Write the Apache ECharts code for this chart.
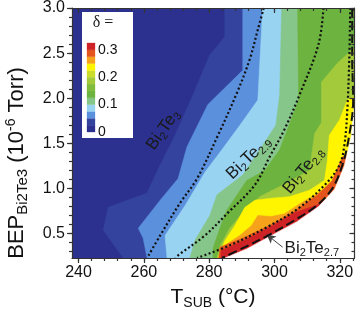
<!DOCTYPE html>
<html><head><meta charset="utf-8">
<script src="https://cdn.jsdelivr.net/npm/echarts@6/dist/echarts.min.js"></script>
<style>html,body{margin:0;padding:0;background:#fff}#c{width:357px;height:317px}</style>
</head><body><div id="c"></div>
<script>
// ---------------- data (T in °C, BEP in 1e-6 Torr) ----------------
const xMajorTicks = [240, 260, 280, 300, 320];
const xMinorTicks = [240,244,248,252,256,260,264,268,272,276,280,284,288,292,296,300,304,308,312,316,320,324];
const yMajorTicks = [0.5, 1.0, 1.5, 2.0, 2.5, 3.0];
const yMinorTicks = [0.3,0.4,0.5,0.6,0.7,0.8,0.9,1.0,1.1,1.2,1.3,1.4,1.5,1.6,1.7,1.8,1.9,2.0,2.1,2.2,2.3,2.4,2.5,2.6,2.7,2.8,2.9,3.0];
const deltaLevels = [0, 0.025, 0.05, 0.075, 0.1, 0.125, 0.15, 0.175, 0.2, 0.225, 0.25, 0.275, 0.3, 0.325];
const colorbarTicks = [0, 0.1, 0.2, 0.3];
const bandColors = ['#2c3190','#34449e','#5b90dd','#98d4f2','#86c68b','#6db33f','#80bb3b','#a2ca3a','#cadd2b','#fff500','#f6a31b','#e4551e','#cf2227'];

// contour edges: left edge of the region where delta >= level
const edgeBase = [[230,3.0],[230,0.23]];
const edge025 = [[284.8,3.0],[284.8,2.68],[280.2,2.48],[275.1,2.04],[269.6,1.59],[265.0,1.26],[261.0,0.95],[249.1,0.79],[247.6,0.54],[253.7,0.23]];
const edge050 = [[290.3,3.0],[290.3,2.31],[279.6,1.93],[273.2,1.46],[270.5,1.11],[265.0,0.87],[258.3,0.56],[259.8,0.45],[261.0,0.23]];
const edge075 = [[296.4,3.0],[294.9,1.98],[289.4,1.70],[283.9,1.43],[278.7,1.18],[272.6,0.81],[266.5,0.48],[267.1,0.23]];
const edge100 = [[302.2,3.0],[301.6,2.04],[300.4,1.70],[294.9,1.40],[290.3,1.15],[282.4,0.93],[280.2,0.70],[275.7,0.43],[274.1,0.23]];
const edge125 = [[307.1,3.0],[307.4,1.98],[301.6,1.43],[297.0,1.20],[291.5,1.09],[285.4,0.76],[283.3,0.56],[281.2,0.34],[281.2,0.23]];
const edge175 = [[326,2.59],[324.5,2.56],[319.3,2.39],[314.4,2.18],[314.4,1.98],[314.4,1.73],[312.3,1.61],[311.3,1.35],[310.7,1.20],[303.7,1.06],[295.5,0.91],[291.5,0.78],[286.3,0.56],[283.3,0.36],[282.4,0.23]];
const edge225 = [[326,2.04],[322.3,1.98],[319.9,1.76],[316.8,1.59],[316.2,1.31],[315.3,1.09],[310.7,0.98],[304.6,0.91],[298.5,0.89],[294.0,0.87],[290.9,0.79],[287.9,0.59],[284.8,0.42],[282.7,0.23]];
const edge250 = [[326,1.15],[319.9,1.11],[316.8,1.03],[312.9,0.94],[307.7,0.83],[303.1,0.72],[299.1,0.69],[294.9,0.70],[293.0,0.59],[289.4,0.48],[284.8,0.37],[282.7,0.23]];
const edge275 = [[326,1.43],[320.8,1.35],[317.7,1.09],[312.9,0.92],[306.2,0.75],[298.5,0.59],[290.9,0.46],[283.3,0.35],[283.0,0.23]];
const edge300 = [[326,0.87],[316.8,0.87],[311.6,0.80],[306.2,0.73],[298.5,0.57],[290.9,0.43],[283.6,0.31],[283.6,0.23]];
const dataEdge = [[326,3.0],[326,1.98],[324.6,1.98],[323.5,1.58],[321.4,1.25],[318.4,0.99],[313.5,0.80],[306.8,0.63],[299.1,0.48],[291.5,0.33],[284.8,0.23]];

// composition curves
const curveTe30 = [[296.7,3.0],[294.9,2.76],[292.4,2.43],[288.5,2.06],[282.7,1.59],[276.3,1.11],[271.1,0.84],[265.0,0.48],[261.0,0.23]];
const curveTe29 = [[315.0,3.0],[313.5,2.6],[307.7,2.04],[303.0,1.65],[298.5,1.35],[294.0,1.04],[285.7,0.73],[278.7,0.48],[270.5,0.26],[269.6,0.23]];
const curveTe28 = [[323.2,3.0],[322.9,2.43],[322.3,1.87],[321.4,1.48],[319.9,1.26],[315.9,1.06],[307.7,0.79],[297.6,0.57],[286.3,0.37],[276.3,0.23]];
const curveTe27 = [[323.8,3.0],[323.8,2.87],[323.8,2.43],[324.1,1.98],[322.9,1.59],[320.8,1.26],[317.7,1.0],[312.9,0.81],[306.2,0.65],[298.5,0.49],[290.9,0.35],[283.9,0.23]];
const arrowTail = [302.5, 0.35];
const arrowHead = [297.6, 0.49];

// ---------------- chart ----------------
const FONT = '"Liberation Sans", Arial, sans-serif';
const AX = '#333';
const regions = [
  {band:0, edge:edgeBase},{band:1, edge:edge025},{band:2, edge:edge050},{band:3, edge:edge075},
  {band:4, edge:edge100},{band:5, edge:edge125},{band:7, edge:edge175},{band:9, edge:edge225},
  {band:10, edge:edge250},{band:11, edge:edge275},{band:12, edge:edge300},{band:-1, edge:dataEdge}
];
function closeRight(edge){
  const t = edge[0], b = edge[edge.length-1];
  return [[t[0],3.5]].concat(edge, [[b[0],0.0],[340,0.0],[340,3.5]]);
}
const polys = regions.map(r => ({poly: closeRight(r.edge), color: r.band < 0 ? '#ffffff' : bandColors[r.band]}));

const chart = echarts.init(document.getElementById('c'));
const lineS = (data, dash, w) => ({
  type:'line', xAxisIndex:0, yAxisIndex:0, data, symbol:'none', smooth:0.35, silent:true, z:6,
  lineStyle:{color:'#111', width:w, type:dash, cap:'butt'}
});
const xBase = {type:'value', gridIndex:0, min:238, max:324.5, splitLine:{show:false}, z:10};
const yBase = {type:'value', gridIndex:0, min:0.23, max:3.0, splitLine:{show:false}, z:10};
const tickLine = {color:AX, width:1.2};

chart.setOption({
  animation:false,
  grid:[{left:72, right:2.5, top:8, bottom:59},{left:87, top:43, width:8, height:89}],
  xAxis:[
    Object.assign({}, xBase, {position:'bottom', axisLine:{show:true, lineStyle:tickLine},
      axisTick:{show:true, customValues:xMajorTicks, length:5, lineStyle:tickLine},
      axisLabel:{customValues:xMajorTicks, fontSize:16, color:'#111', fontFamily:FONT, margin:7}}),
    Object.assign({}, xBase, {position:'bottom', axisLine:{show:false},
      axisTick:{show:true, customValues:xMinorTicks, length:3, lineStyle:tickLine}, axisLabel:{show:false}}),
    Object.assign({}, xBase, {position:'top', axisLine:{show:true, lineStyle:tickLine},
      axisTick:{show:true, inside:true, customValues:xMajorTicks, length:5, lineStyle:tickLine}, axisLabel:{show:false}}),
    Object.assign({}, xBase, {position:'top', axisLine:{show:false},
      axisTick:{show:true, inside:true, customValues:xMinorTicks, length:3, lineStyle:tickLine}, axisLabel:{show:false}}),
    {type:'value', gridIndex:1, min:0, max:1, show:false}
  ],
  yAxis:[
    Object.assign({}, yBase, {position:'left', axisLine:{show:true, lineStyle:tickLine},
      axisTick:{show:true, customValues:yMajorTicks, length:5, lineStyle:tickLine},
      axisLabel:{customValues:yMajorTicks, fontSize:16, color:'#111', fontFamily:FONT, margin:7,
        formatter:v=>v.toFixed(1)}}),
    Object.assign({}, yBase, {position:'left', axisLine:{show:false},
      axisTick:{show:true, customValues:yMinorTicks, length:3, lineStyle:tickLine}, axisLabel:{show:false}}),
    Object.assign({}, yBase, {position:'right', axisLine:{show:true, lineStyle:tickLine},
      axisTick:{show:true, inside:true, customValues:yMajorTicks, length:5, lineStyle:tickLine}, axisLabel:{show:false}}),
    Object.assign({}, yBase, {position:'right', axisLine:{show:false},
      axisTick:{show:true, inside:true, customValues:yMinorTicks, length:3, lineStyle:tickLine}, axisLabel:{show:false}}),
    {type:'value', gridIndex:1, min:0, max:0.325, position:'right', z:12,
      axisLine:{show:false}, axisTick:{show:false}, splitLine:{show:false},
      axisLabel:{customValues:colorbarTicks, fontSize:14, color:'#111', fontFamily:FONT, margin:3,
        formatter:v=> v===0 ? '0' : v.toFixed(1)}}
  ],
  series:[
    {type:'custom', xAxisIndex:0, yAxisIndex:0, clip:true, silent:true, z:2,
      data: polys.map(()=>[300,1]),
      renderItem:(params, api) => {
        const p = polys[params.dataIndex];
        return {type:'polygon', shape:{points:p.poly.map(q=>api.coord(q))},
          style:{fill:p.color, stroke:p.color, lineWidth:0.6}};
      }},
    lineS(curveTe30, [2,2.4], 2.2),
    lineS(curveTe29, [2,2.4], 2.2),
    lineS(curveTe28, [2,2.4], 2.2),
    Object.assign(lineS(curveTe27, [9,4], 2), {
      markLine:{silent:true, symbol:['none','arrow'], symbolSize:[7,9], label:{show:false},
        lineStyle:{color:'#444', width:1, type:'solid'},
        data:[[{coord:arrowTail},{coord:arrowHead}]]}}),
    {type:'custom', xAxisIndex:4, yAxisIndex:4, silent:true, z:12,
      data: deltaLevels.slice(0,-1).map((lo,i)=>[lo, deltaLevels[i+1]]),
      renderItem:(params, api) => {
        const lo = api.value(0), hi = api.value(1);
        const a = api.coord([0, lo]), b = api.coord([1, hi]);
        return {type:'rect', shape:{x:a[0], y:b[1], width:b[0]-a[0], height:a[1]-b[1]},
          style:{fill:bandColors[params.dataIndex], stroke:bandColors[params.dataIndex], lineWidth:0.3}};
      }}
  ]
});

// annotations placed through the data scale
const P = p => chart.convertToPixel({xAxisIndex:0, yAxisIndex:0}, p);
const curveLabels = [
  {text:'Bi{s|2}Te{s|3}', at:[265.9,1.65], angle:55},
  {text:'Bi{s|2}Te{s|2.9}', at:[292.1,1.34], angle:44},
  {text:'Bi{s|2}Te{s|2.8}', at:[308.9,1.20], angle:51}
];
const subRich = {s:{fontSize:11, lineHeight:10, verticalAlign:'bottom', fontFamily:FONT, fill:'#1a1a1a'}};
const g = [];
g.push({type:'rect', z:8, shape:{x:82, y:12, width:51, height:126}, style:{fill:'#fff'}});
g.push({type:'text', z:9, x:103, y:23, style:{text:'δ =', font:'16px "Liberation Serif", serif', fill:'#222', align:'center', verticalAlign:'middle', textAlign:'center', textVerticalAlign:'middle'}});
curveLabels.forEach(l => {
  const p = P(l.at);
  g.push({type:'text', z:20, x:p[0], y:p[1], rotation:l.angle*Math.PI/180,
    style:{text:l.text, rich:subRich, fontSize:17, fontFamily:FONT, lineHeight:20, fill:'#1a1a1a',
      align:'center', verticalAlign:'middle', textAlign:'center', textVerticalAlign:'middle'}});
});
const p27 = P([303.1,0.34]);
g.push({type:'text', z:20, x:p27[0], y:p27[1],
  style:{text:'Bi{s|2}Te{s|2.7}', rich:subRich, fontSize:17, fontFamily:FONT, lineHeight:20, fill:'#1a1a1a',
    align:'left', verticalAlign:'middle', textAlign:'left', textVerticalAlign:'middle'}});
// axis titles
g.push({type:'text', z:20, x:213, y:297,
  style:{text:'T{s|SUB} (°C)', rich:{s:{fontSize:14, lineHeight:12, verticalAlign:'bottom', fontFamily:FONT, fill:'#111'}},
    fontSize:21, fontFamily:FONT, lineHeight:26, fill:'#111',
    align:'center', verticalAlign:'middle', textAlign:'center', textVerticalAlign:'middle'}});
g.push({type:'text', z:20, x:17, y:163, rotation:Math.PI/2,
  style:{text:'BEP{s|Bi2Te3} (10{p|-6} Torr)', rich:{
      s:{fontSize:15, lineHeight:12, verticalAlign:'bottom', fontFamily:FONT, fill:'#111'},
      p:{fontSize:14, lineHeight:12, verticalAlign:'top', fontFamily:FONT, fill:'#111'}},
    fontSize:22, fontFamily:FONT, lineHeight:26, fill:'#111',
    align:'center', verticalAlign:'middle', textAlign:'center', textVerticalAlign:'middle'}});
chart.setOption({graphic:{elements:g}});
</script></body></html>
